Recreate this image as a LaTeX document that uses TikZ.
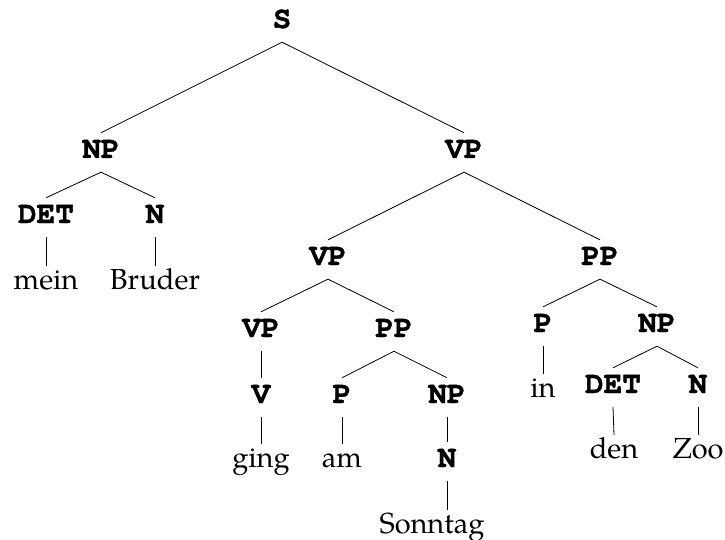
\documentclass[tikz,border=0pt]{standalone}
\usepackage{fontspec}
\setmainfont{TeX Gyre Pagella}
\newfontfamily\catfont{TeX Gyre Cursor}[BoldFeatures={FakeBold=1.2}]
\begin{document}
\begin{tikzpicture}[x=1pt,y=-1pt,
  cat/.style={anchor=base,font=\catfont\bfseries\fontsize{31}{33}\selectfont,
    text height=15pt,text depth=4pt,inner xsep=2pt,inner ysep=10pt},
  word/.style={anchor=base,font=\fontsize{29}{32}\selectfont,
    text height=16pt,text depth=6pt,inner xsep=2pt,inner ysep=7pt},
  branch/.style={line width=0.8pt}]
\useasboundingbox (0,0) rectangle (725,540);
% phrase labels
\node[cat] (s)    at (282,28)  {S};
\node[cat] (np1)  at (101,158) {NP};
\node[cat] (vp1)  at (464,158) {VP};
\node[cat] (det1) at (46,223)  {DET};
\node[cat] (n1)   at (155,223) {N};
\node[cat] (vp2)  at (328,265) {VP};
\node[cat] (pp1)  at (600,265) {PP};
\node[cat] (vp3)  at (261,337) {VP};
\node[cat] (pp2)  at (394,337) {PP};
\node[cat] (p1)   at (543,332) {P};
\node[cat] (np3)  at (657,332) {NP};
\node[cat] (v)    at (261,403) {V};
\node[cat] (p2)   at (342,403) {P};
\node[cat] (np2)  at (447,403) {NP};
\node[cat] (det2) at (613,393) {DET};
\node[cat] (n3)   at (698,393) {N};
\node[cat] (n2)   at (447,467) {N};
% words
\node[word] (mein)    at (46,289)  {mein};
\node[word] (bruder)  at (155,289) {Bruder};
\node[word] (ging)    at (261,467) {ging};
\node[word] (am)      at (342,467) {am};
\node[word] (in)      at (543,397) {in};
\node[word] (den)     at (614,458) {den};
\node[word] (zoo)     at (698,458) {Zoo};
\node[word] (sonntag) at (432,533) {Sonntag};
% branches
\draw[branch] (s.south) -- (np1.north);
\draw[branch] (s.south) -- (vp1.north);
\draw[branch] (np1.south) -- (det1.north);
\draw[branch] (np1.south) -- (n1.north);
\draw[branch] (det1.south) -- (mein.north);
\draw[branch] (n1.south) -- (bruder.north);
\draw[branch] (vp1.south) -- (vp2.north);
\draw[branch] (vp1.south) -- (pp1.north);
\draw[branch] (vp2.south) -- (vp3.north);
\draw[branch] (vp2.south) -- (pp2.north);
\draw[branch] (vp3.south) -- (v.north);
\draw[branch] (v.south) -- (ging.north);
\draw[branch] (pp2.south) -- (p2.north);
\draw[branch] (pp2.south) -- (np2.north);
\draw[branch] (p2.south) -- (am.north);
\draw[branch] (np2.south) -- (n2.north);
\draw[branch] (n2.south) -- (n2.south |- sonntag.north);
\draw[branch] (pp1.south) -- (p1.north);
\draw[branch] (pp1.south) -- (np3.north);
\draw[branch] (p1.south) -- (in.north);
\draw[branch] (np3.south) -- (det2.north);
\draw[branch] (np3.south) -- (n3.north);
\draw[branch] (det2.south) -- (den.north);
\draw[branch] (n3.south) -- (zoo.north);
\end{tikzpicture}
\end{document}
